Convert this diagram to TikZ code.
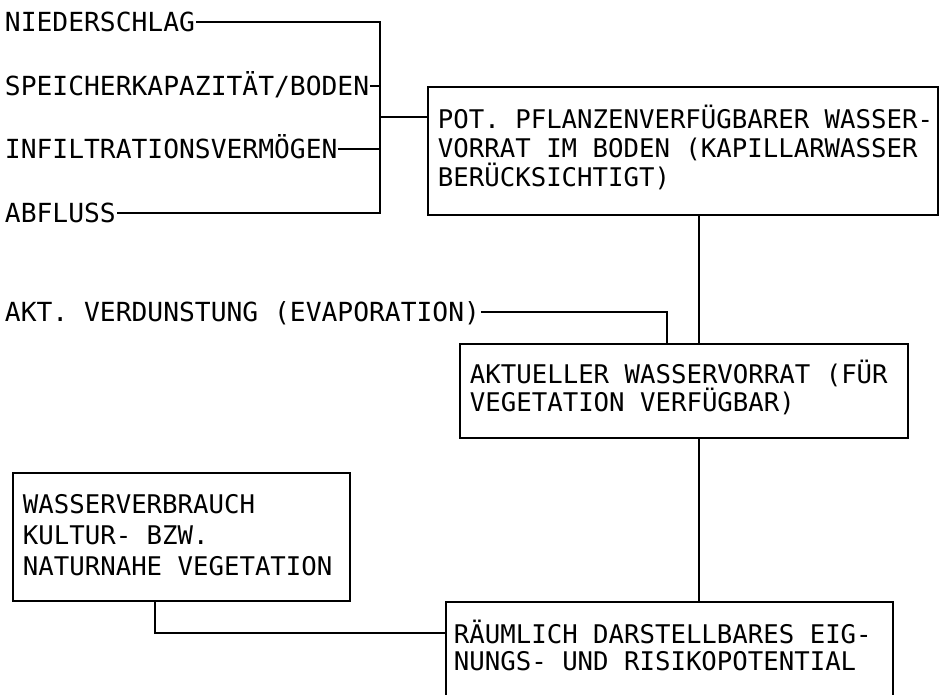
\documentclass[tikz,border=0pt]{standalone}
\usepackage{fontspec}
\newfontfamily\diamono{DejaVu Sans Mono}
\begin{document}
\begin{tikzpicture}[x=1pt,y=-1pt,line width=1.9pt,
  lab/.style={font=\diamono\fontsize{26.3}{29}\selectfont, inner sep=0pt, text height=19pt, text depth=0pt, anchor=west},
  box/.style={draw, rectangle, inner sep=0pt, anchor=north west},
  btxt/.style={font=\diamono\fontsize{25.7}{#1}\selectfont, inner sep=0pt, align=left, anchor=west}]
\useasboundingbox (0,0) rectangle (943,694);
\fill[white] (0,0) rectangle (943,694);
% left labels
\node[lab] (n1) at (4,22) {NIEDERSCHLAG};
\node[lab] (n2) at (4,86) {SPEICHERKAPAZITÄT/BODEN};
\node[lab] (n3) at (4,149) {INFILTRATIONSVERMÖGEN};
\node[lab] (n4) at (4,213) {ABFLUSS};
\node[lab] (n5) at (4,312) {AKT. VERDUNSTUNG (EVAPORATION)};
% boxes
\node[box, minimum width=510pt, minimum height=128pt] (b1) at (427,86) {};
\node[box, minimum width=448pt, minimum height=94pt] (b2) at (459,343) {};
\node[box, minimum width=337pt, minimum height=128pt] (b3) at (12,472) {};
\node[box, minimum width=447pt, minimum height=105pt] (b4) at (445,601) {};
% box texts
\node[btxt=29] (t1) at ([xshift=10pt,yshift=3pt]b1.west) {POT. PFLANZENVERFÜGBARER WASSER-\\VORRAT IM BODEN (KAPILLARWASSER\\BERÜCKSICHTIGT)};
\node[btxt=28] (t2) at ([xshift=10pt,yshift=3pt]b2.west) {AKTUELLER WASSERVORRAT (FÜR\\VEGETATION VERFÜGBAR)};
\node[btxt=31] (t3) at ([xshift=10pt,yshift=2pt]b3.west) {WASSERVERBRAUCH\\KULTUR- BZW.\\NATURNAHE VEGETATION};
\node[btxt=27] (t4) at ([xshift=8pt,yshift=-44pt]b4.north west) {RÄUMLICH DARSTELLBARES EIG-\\NUNGS- UND RISIKOPOTENTIAL};
% connectors
\coordinate (bus) at (380,117);
\draw (n1.east) -- (n1.east -| bus) -- (n4.east -| bus) -- (n4.east);
\draw (n2.east) -- (n2.east -| bus);
\draw (n3.east) -- (n3.east -| bus);
\draw (bus) -- (bus -| b1.west);
\coordinate (vx) at (699,0);
\draw (b1.south -| vx) -- (b2.north -| vx);
\draw (b2.south -| vx) -- (b4.north -| vx);
\coordinate (ak) at (667,0);
\draw (n5.east) -| (b2.north -| ak);
\coordinate (wv) at (155,633);
\draw (b3.south -| wv) |- (b4.west |- wv);
\end{tikzpicture}
\end{document}
